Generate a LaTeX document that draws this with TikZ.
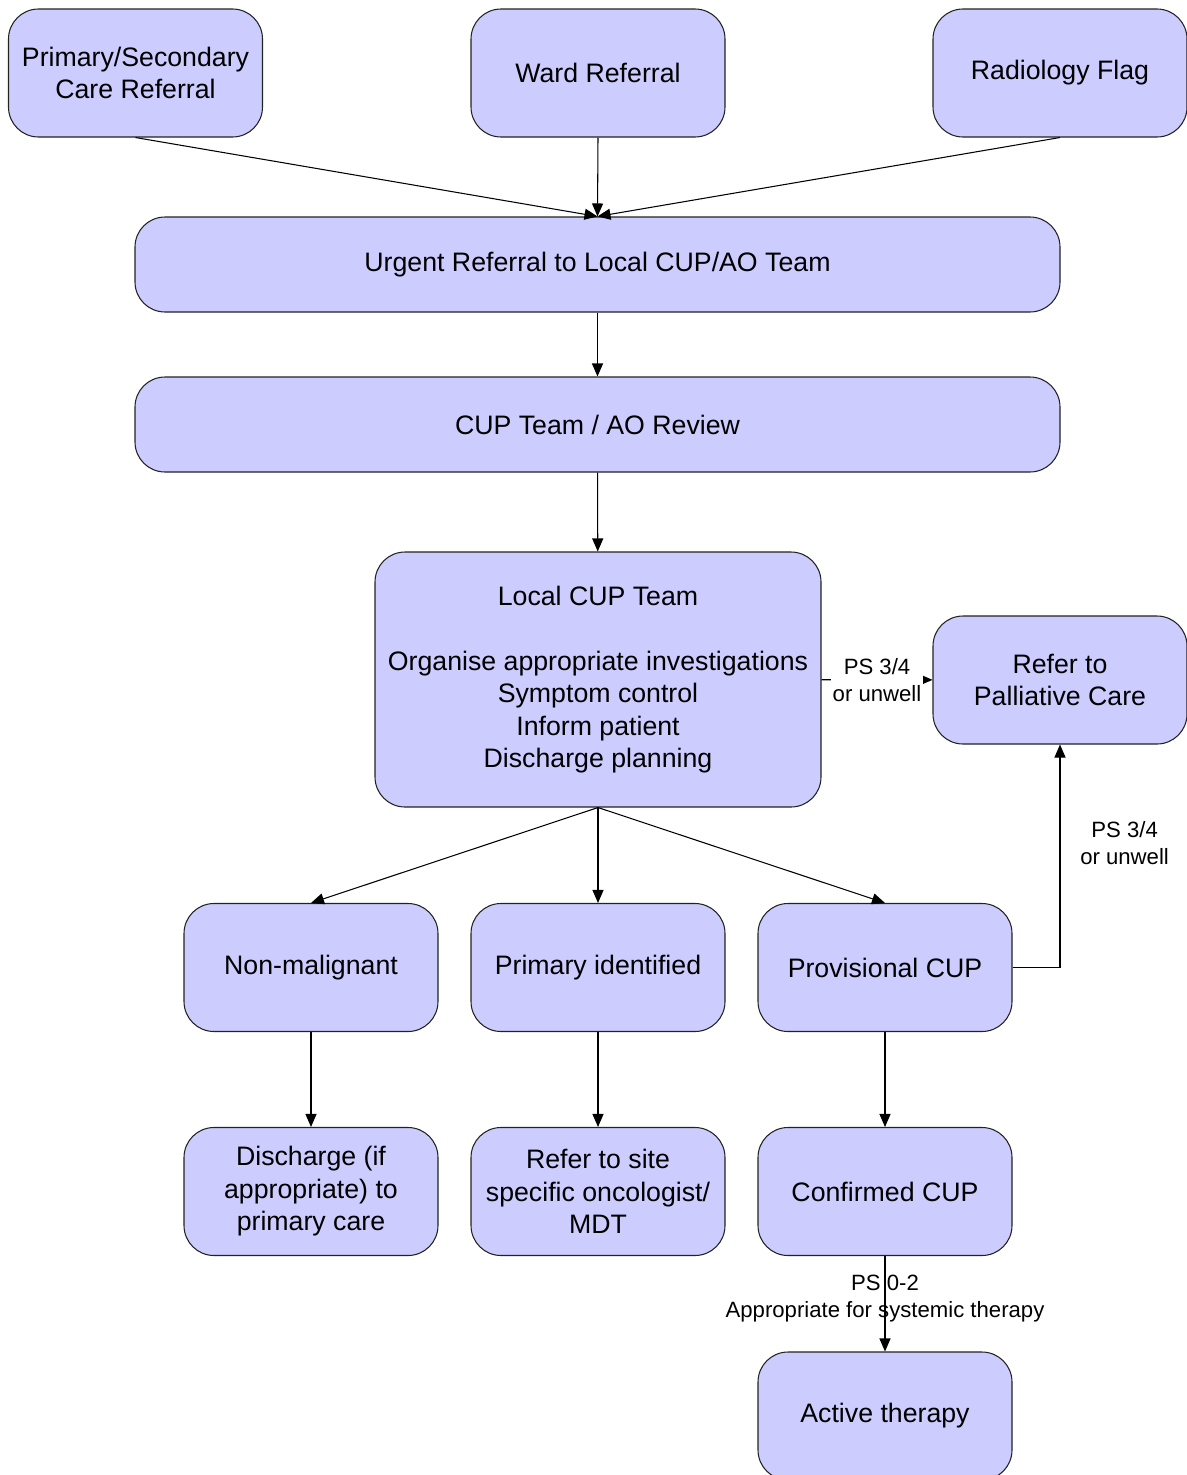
\documentclass[tikz,border=0pt]{standalone}
\usepackage{fontspec}
\setmainfont{Liberation Sans}
\usetikzlibrary{arrows.meta,positioning}
\definecolor{boxfill}{HTML}{CCCCFF}
\definecolor{boxline}{HTML}{222222}
\tikzset{
  flowbox/.style   = {draw=boxline, fill=boxfill, line width=0.6pt,
                      rounded corners=0.6cm, align=center,
                      minimum width=5.08cm, minimum height=2.56cm,
                      font=\fontsize{15.2pt}{18.5pt}\selectfont},
  widebox/.style   = {flowbox, minimum width=18.5cm, minimum height=1.9cm},
  flow/.style      = {-{Triangle[length=0.26cm,width=0.22cm]}, line width=0.6pt},
  edgelabel/.style = {font=\fontsize{12.6pt}{15.4pt}\selectfont, align=center,
                      inner sep=1pt},
}

\begin{document}
\begin{tikzpicture}

  \useasboundingbox (0,0) rectangle (23.74,-29.5);

  % ---- referral sources --------------------------------------------------
  \node[flowbox] (primsec) at (2.71,-1.46)  {Primary/Secondary\\Care Referral};
  \node[flowbox] (ward)    at (11.96,-1.46) {Ward Referral};
  \node[flowbox] (radflag) at (21.20,-1.46) {Radiology Flag};

  % ---- referral and review -----------------------------------------------
  \node[widebox] (urgent) at (11.95,-5.29) {Urgent Referral to Local CUP/AO Team};
  \node[widebox] (review) at (11.95,-8.49) {CUP Team / AO Review};

  \node[flowbox, minimum width=8.92cm, minimum height=5.1cm] (localcup) at (11.96,-13.59)
    {Local CUP Team\\[0.65cm]Organise appropriate investigations\\Symptom control\\
     Inform patient\\Discharge planning};
  \node[flowbox] (palliative) at (21.20,-13.60) {Refer to\\Palliative Care};

  % ---- outcomes ----------------------------------------------------------
  \node[flowbox] (nonmalig) at (6.22,-19.35)  {Non-malignant};
  \node[flowbox] (primid)   at (11.96,-19.35) {Primary identified};
  \node[flowbox] (provcup)  at (17.70,-19.35) {Provisional CUP};

  \node[flowbox] (discharge) at (6.22,-23.83)  {Discharge (if\\appropriate) to\\primary care};
  \node[flowbox] (sitemdt)   at (11.96,-23.83) {Refer to site\\specific oncologist/\\MDT};
  \node[flowbox] (confcup)   at (17.70,-23.83) {Confirmed CUP};
  \node[flowbox] (active)    at (17.70,-28.32) {Active therapy};

  % ---- connectors --------------------------------------------------------
  \draw[flow] (primsec.south) -- (urgent.north);
  \draw[flow] (ward.south)    -- (urgent.north);
  \draw[flow] (radflag.south) -- (urgent.north);
  \draw[flow] (urgent) -- (review);
  \draw[flow] (review) -- (localcup);

  \draw[flow] (localcup) -- node[edgelabel, fill=white] {PS 3/4\\or unwell} (palliative);

  \draw[flow] (localcup.south) -- (nonmalig.north);
  \draw[flow] (localcup.south) -- (primid.north);
  \draw[flow] (localcup.south) -- (provcup.north);

  \draw[flow] (provcup.east) -| node[edgelabel, pos=0.78, anchor=west, xshift=0.36cm]
    {PS 3/4\\or unwell} (palliative.south);

  \draw[flow] (nonmalig) -- (discharge);
  \draw[flow] (primid)   -- (sitemdt);
  \draw[flow] (provcup)  -- (confcup);
  \draw[flow] (confcup)  -- node[edgelabel, pos=0.45]
    {PS 0-2\\Appropriate for systemic therapy} (active);

\end{tikzpicture}
\end{document}
